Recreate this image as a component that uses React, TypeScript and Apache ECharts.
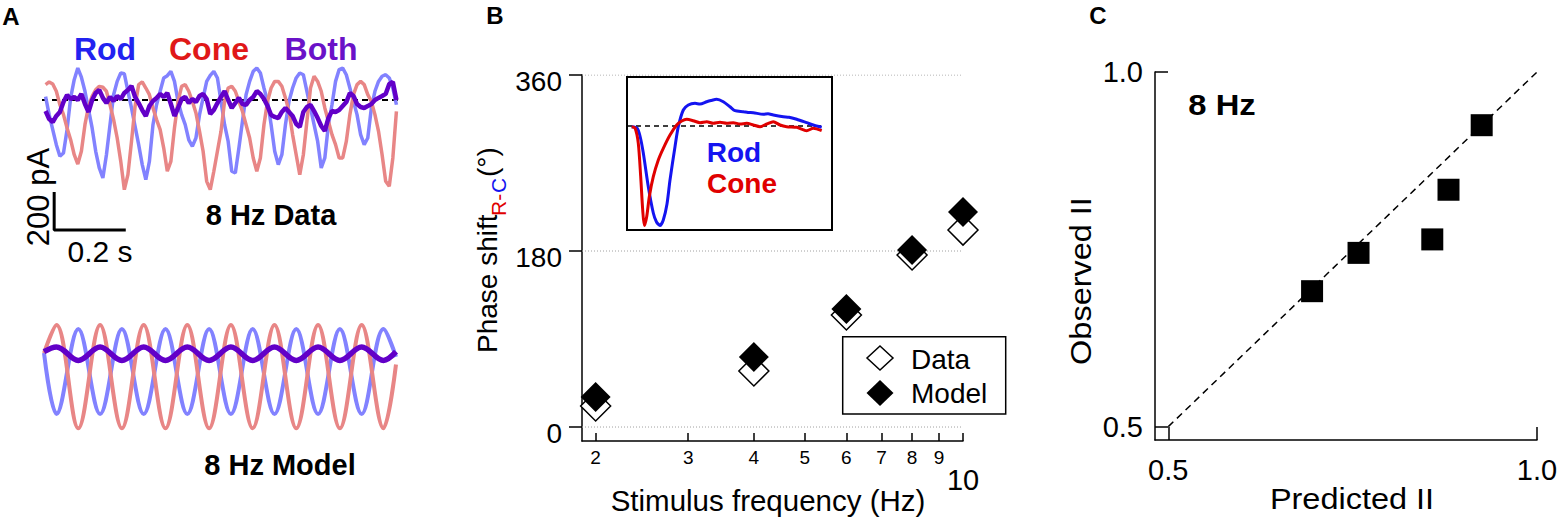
import React, { useEffect, useRef } from 'react';
import * as echarts from 'echarts';

const FONT = "'Liberation Sans', Arial, Helvetica, sans-serif";

// ---------- Panel A: recorded responses at 8 Hz (sampled every 10 ms, pA) ----------
const traceDt = 0.01;
const rodTracePA = [
  18, -77, -156, -235, -296, -279, -156, 11, 107, 168,
  120, 46, -51, -147, -270, -358, -410, -288, -130, 28,
  98, 142, 138, 46, -42, -139, -235, -340, -419, -323,
  -130, -25, 46, 116, 128, 151, 98, -7, -77, -130,
  -210, -244, -200, -77, 11, 98, 130, 151, 116, -7,
  -130, -218, -375, -384, -253, -112, 28, 98, 151, 168,
  142, 63, -7, -130, -270, -340, -288, -130, -7, 63,
  116, 142, 133, 46, -42, -130, -218, -358, -305, -130,
  -25, 98, 160, 168, 133, 63, -7, -77, -182, -235,
  -200, -42, 46, 98, 125, 133, 116, 63, -25
];
const coneTracePA = [
  81, 95, 84, 46, -25, -77, -147, -209, -288, -337,
  -270, -130, -33, 19, 54, 72, 67, 46, -25, -103,
  -200, -323, -472, -393, -218, -33, 81, 95, 63, 28,
  -42, -103, -156, -253, -375, -323, -147, -7, 72, 81,
  46, -7, -68, -165, -270, -428, -472, -375, -270, -165,
  -7, 63, 72, 46, -7, -60, -130, -200, -305, -375,
  -305, -130, -7, 63, 98, 98, 72, 11, -60, -182,
  -288, -393, -288, -112, 63, 125, 98, 46, -42, -112,
  -182, -235, -305, -305, -218, -77, 28, 81, 98, 81,
  28, -7, -77, -165, -288, -428, -454, -305, -60
];
const bothTracePA = [
  -58, -100, -116, -84, -63, -11, 26, 5, 16, 0,
  32, -21, -63, 0, 37, 53, 11, -16, 16, -5,
  21, 5, 37, 53, 74, 16, -16, -53, -84, -32,
  -5, 11, 32, 16, 37, -21, -84, -42, 5, 16,
  -16, 5, -11, 21, 32, 5, -74, -53, -16, 16,
  47, 0, -42, -16, 11, -21, -26, 0, 16, 47,
  32, 5, -32, -79, -89, -95, -63, -42, -63, -84,
  -126, -142, -63, -37, -26, -58, -95, -137, -163, -95,
  -58, -63, -53, -32, -11, 37, 21, -21, -37, -42,
  -32, -21, 0, 11, 21, 32, 84, 95, 0
];
const baselineT = [0, 0.994];
const scaleBarT = [0.034, 0.034, 0.234];
const scaleBarPA = [-484, -684, -684];

// ---------- Panel A: model responses (extrema) ----------
const modelT = [0.0056, 0.0405, 0.1014, 0.1623, 0.2232, 0.2841, 0.345, 0.4059, 0.4668, 0.5277, 0.5885, 0.6494, 0.7103, 0.7712, 0.8321, 0.893, 0.9539, 0.9888];
const modelConePA = [120, 268, -275, 268, -275, 268, -275, 268, -275, 268, -275, 268, -275, 268, -275, 268, -275, 60];
const modelRodPA = [121, -200, 247, -200, 247, -200, 247, -200, 247, -200, 247, -200, 247, -200, 247, -200, 247, 101];
const modelBothPA = [128, 153, 82, 153, 82, 153, 82, 153, 82, 153, 82, 153, 82, 153, 82, 153, 82, 128];

// ---------- Panel B: phase shift ----------
const freqHz = [2, 4, 6, 8, 10];
const phaseData = [21.5, 57.3, 114.5, 175.9, 201.4];
const phaseModel = [30.7, 71.6, 120.7, 181, 219.8];
const freqTicks = [2, 3, 4, 5, 6, 7, 8, 9, 10];
const phaseTicks = [0, 180, 360];

// inset: flash responses (time, normalized current)
const insetRodT = [4.7, 10, 13, 16.3, 21.3, 26.3, 29.5, 33, 36.3, 40, 43, 48, 51.3, 56.3, 61.3, 68, 73, 79.7, 84, 89.7, 96.3, 103, 108, 116.3, 121, 126.3, 136.3, 141, 146.3, 156.3, 162, 169.7, 179.7, 186.3, 194.7];
const insetRodV = [-0.7, -2, -10, -27, -60.7, -87, -96, -99.5, -94, -78, -54, -20.7, -0.7, 16, 21, 22.7, 22, 24.3, 25.5, 26.7, 24.3, 19.3, 15.3, 14.3, 13.5, 13.3, 11.7, 12.3, 11, 9.3, 8.8, 6.7, 3.3, 1, -1.3];
const insetConeT = [4.7, 8, 11.3, 13.7, 15.7, 17.3, 19.7, 22.3, 26.3, 31.3, 36.3, 43, 49.7, 54.7, 59.7, 66.3, 73, 79.7, 86.3, 93, 99.7, 106.3, 113, 119.7, 126.3, 133, 139.7, 146.3, 153, 159.7, 169.7, 179.7, 186.3, 194.7];
const insetConeV = [-0.7, -2, -17.3, -50.7, -84, -99.5, -90.7, -70.7, -50.7, -34, -22.3, -9, 1, 5, 6.7, 5.3, 3.3, 4.3, 2.7, 3.7, 2.7, 3.3, 2, 2.7, 1, -0.7, 2, 4.3, 1, -0.7, -1.3, -4.7, -2.3, -4.7];
const insetBaseT = [0, 195];

// ---------- Panel C: interaction index ----------
const predictedII = [0.695, 0.758, 0.858, 0.88, 0.925];
const observedII = [0.691, 0.745, 0.764, 0.834, 0.925];
const iiTicks = [0.5, 1.0];
const unityLine = [0.5, 1.0];

const ROD_LIGHT = '#8282ff';
const CONE_LIGHT = '#e88686';
const BOTH = '#6200c8';

const lg = (v: number) => Math.log10(v);

function txt(text: string, x: number, y: number, o: any = {}) {
  const align = o.align || 'center';
  return {
    type: 'text',
    x,
    y,
    rotation: o.rotation || 0,
    scaleX: o.scaleX || 1,
    z: 20,
    silent: true,
    style: {
      text,
      fill: o.color || '#000',
      fontSize: o.size || 28,
      fontWeight: o.bold ? 'bold' : 'normal',
      fontFamily: FONT,
      align,
      textAlign: align,
      verticalAlign: 'middle',
      textVerticalAlign: 'middle',
    },
  };
}

const hidden = (gridIndex: number, min: number, max: number) => ({
  type: 'value', gridIndex, min, max, show: false,
  axisLine: { show: false }, axisTick: { show: false }, axisLabel: { show: false }, splitLine: { show: false },
});

const AXIS_LINE = { show: true, onZero: false, lineStyle: { color: '#000', width: 1.5 } };

export default function App() {
  const ref = useRef<HTMLDivElement>(null);
  useEffect(() => {
    if (!ref.current) return;
    const chart = echarts.init(ref.current, undefined, { renderer: 'svg' });
    const freqMin = lg(1.884);

    const option: any = {
      animation: false,
      backgroundColor: '#ffffff',
      textStyle: { fontFamily: FONT },
      grid: [
        { left: 42, top: 62, width: 358, height: 190 },
        { left: 42, top: 300, width: 358, height: 152 },
        { left: 582, top: 75, width: 381, height: 366 },
        { left: 627, top: 77, width: 205, height: 153, show: true, borderColor: '#000', borderWidth: 2, backgroundColor: 'rgba(0,0,0,0)', z: 3 },
        { left: 1155, top: 72, width: 382, height: 368 },
      ],
      xAxis: [
        hidden(0, 0, 1),
        hidden(1, 0, 1),
        {
          type: 'value', gridIndex: 2, min: freqMin, max: 1,
          axisLine: AXIS_LINE,
          axisTick: { show: true, inside: true, length: 8, lineStyle: { color: '#000', width: 1.5 }, customValues: freqTicks.map(lg) },
          axisLabel: {
            show: true, customValues: freqTicks.map(lg), margin: 7, color: '#000',
            formatter: (v: number) => {
              const f = Math.round(Math.pow(10, v));
              return f === 10 ? '{big|10}' : '{sm|' + f + '}';
            },
            rich: {
              sm: { fontSize: 19, color: '#000', fontFamily: FONT },
              big: { fontSize: 29, color: '#000', fontFamily: FONT, padding: [17, 0, 0, 0] },
            },
          },
          splitLine: { show: false },
        },
        hidden(3, 0, 205),
        {
          type: 'value', gridIndex: 4, min: 0.482, max: 1.0,
          axisLine: AXIS_LINE,
          axisTick: { show: true, inside: true, length: 13, lineStyle: { color: '#000', width: 1.5 }, customValues: iiTicks },
          axisLabel: { show: true, customValues: iiTicks, margin: 15, fontSize: 29, color: '#000', fontFamily: FONT, formatter: (v: number) => v.toFixed(1) },
          splitLine: { show: false },
        },
      ],
      yAxis: [
        hidden(0, -800, 200),
        hidden(1, -400, 400),
        {
          type: 'value', gridIndex: 2, min: -14.3, max: 360,
          axisLine: AXIS_LINE,
          axisTick: { show: true, inside: false, length: 13, lineStyle: { color: '#000', width: 1.5 }, customValues: phaseTicks },
          axisLabel: {
            show: true, customValues: phaseTicks, margin: 20, color: '#000',
            formatter: (v: number) => '{a|' + v + '}',
            rich: { a: { fontSize: 28, color: '#000', fontFamily: FONT, padding: [13, 0, 0, 0] } },
          },
          splitLine: { show: false },
        },
        hidden(3, -104, 49),
        {
          type: 'value', gridIndex: 4, min: 0.4812, max: 1.0,
          axisLine: AXIS_LINE,
          axisTick: { show: true, inside: true, length: 13, lineStyle: { color: '#000', width: 1.5 }, customValues: iiTicks },
          axisLabel: { show: true, customValues: iiTicks, margin: 12, fontSize: 29, color: '#000', fontFamily: FONT, formatter: (v: number) => v.toFixed(1) },
          splitLine: { show: false },
        },
      ],
      series: [
        // Panel A data
        {
          name: 'baseline', type: 'line', xAxisIndex: 0, yAxisIndex: 0, symbol: 'none', z: 1, silent: true,
          data: baselineT.map((t) => [t, 0]),
          lineStyle: { color: '#000', width: 2, type: [6, 4] },
        },
        {
          name: 'Rod', type: 'line', xAxisIndex: 0, yAxisIndex: 0, symbol: 'none', z: 2,
          data: rodTracePA.map((v, i) => [(i + 1) * traceDt, v]),
          lineStyle: { color: ROD_LIGHT, width: 3.5 },
        },
        {
          name: 'Cone', type: 'line', xAxisIndex: 0, yAxisIndex: 0, symbol: 'none', z: 3,
          data: coneTracePA.map((v, i) => [(i + 1) * traceDt, v]),
          lineStyle: { color: CONE_LIGHT, width: 3.5 },
        },
        {
          name: 'Both', type: 'line', xAxisIndex: 0, yAxisIndex: 0, symbol: 'none', z: 4,
          data: bothTracePA.map((v, i) => [(i + 1) * traceDt, v]),
          lineStyle: { color: BOTH, width: 4.5 },
        },
        {
          name: 'scale bar', type: 'line', xAxisIndex: 0, yAxisIndex: 0, symbol: 'none', z: 5, silent: true,
          data: scaleBarT.map((t, i) => [t, scaleBarPA[i]]),
          lineStyle: { color: '#000', width: 3 },
        },
        // Panel A model
        {
          name: 'Rod model', type: 'line', xAxisIndex: 1, yAxisIndex: 1, symbol: 'none', smooth: 0.36, z: 2,
          data: modelT.map((t, i) => [t, modelRodPA[i]]),
          lineStyle: { color: ROD_LIGHT, width: 4 },
        },
        {
          name: 'Cone model', type: 'line', xAxisIndex: 1, yAxisIndex: 1, symbol: 'none', smooth: 0.36, z: 3,
          data: modelT.map((t, i) => [t, modelConePA[i]]),
          lineStyle: { color: CONE_LIGHT, width: 4 },
        },
        {
          name: 'Both model', type: 'line', xAxisIndex: 1, yAxisIndex: 1, symbol: 'none', smooth: 0.36, z: 4,
          data: modelT.map((t, i) => [t, modelBothPA[i]]),
          lineStyle: { color: BOTH, width: 5.5 },
        },
        // Panel B grid lines
        ...phaseTicks.map((p) => ({
          name: 'grid ' + p, type: 'line', xAxisIndex: 2, yAxisIndex: 2, symbol: 'none', z: 1, silent: true,
          data: [[freqMin, p], [1, p]],
          lineStyle: { color: '#a0a0a0', width: 1, type: [1, 2] },
        })),
        {
          name: 'Data', type: 'scatter', xAxisIndex: 2, yAxisIndex: 2, symbol: 'diamond', symbolSize: 30, z: 3, clip: false,
          data: freqHz.map((f, i) => [lg(f), phaseData[i]]),
          itemStyle: { color: '#fff', borderColor: '#000', borderWidth: 1.5, opacity: 1 },
        },
        {
          name: 'Model', type: 'scatter', xAxisIndex: 2, yAxisIndex: 2, symbol: 'diamond', symbolSize: 30, z: 4, clip: false,
          data: freqHz.map((f, i) => [lg(f), phaseModel[i]]),
          itemStyle: { color: '#000', opacity: 1 },
        },
        // inset
        {
          name: 'inset baseline', type: 'line', xAxisIndex: 3, yAxisIndex: 3, symbol: 'none', z: 5, silent: true,
          data: insetBaseT.map((t) => [t, 0]),
          lineStyle: { color: '#000', width: 1.5, type: [5, 4] },
        },
        {
          name: 'Rod flash', type: 'line', xAxisIndex: 3, yAxisIndex: 3, symbol: 'none', smooth: 0.25, z: 6, clip: false,
          data: insetRodT.map((t, i) => [t, insetRodV[i]]),
          lineStyle: { color: '#1414f0', width: 3 },
        },
        {
          name: 'Cone flash', type: 'line', xAxisIndex: 3, yAxisIndex: 3, symbol: 'none', smooth: 0.25, z: 7, clip: false,
          data: insetConeT.map((t, i) => [t, insetConeV[i]]),
          lineStyle: { color: '#e00000', width: 3 },
        },
        // Panel C
        {
          name: 'unity', type: 'line', xAxisIndex: 4, yAxisIndex: 4, symbol: 'none', z: 2, silent: true,
          data: unityLine.map((v) => [v, v]),
          lineStyle: { color: '#000', width: 1.5, type: [7, 5] },
        },
        {
          name: 'II', type: 'scatter', xAxisIndex: 4, yAxisIndex: 4, symbol: 'rect', symbolSize: 22, z: 3, clip: false,
          data: predictedII.map((p, i) => [p, observedII[i]]),
          itemStyle: { color: '#000', opacity: 1 },
        },
      ],
      graphic: [
        // Panel A
        txt('A', 11, 16, { bold: true, size: 24 }),
        txt('Rod', 105, 49, { bold: true, size: 32, color: '#2222f0' }),
        txt('Cone', 209, 49, { bold: true, size: 32, color: '#e01818' }),
        txt('Both', 321, 49, { bold: true, size: 32, color: '#6a12c8' }),
        txt('200 pA', 38, 197, { size: 31, rotation: Math.PI / 2 }),
        txt('0.2 s', 100, 251, { size: 30 }),
        txt('8 Hz Data', 271, 215, { bold: true, size: 29 }),
        txt('8 Hz Model', 280, 465, { bold: true, size: 29 }),
        // Panel B
        txt('B', 495, 15, { bold: true, size: 24 }),
        txt('Phase shift', 487, 353, { size: 28, rotation: Math.PI / 2, align: 'left' }),
        txt('R-', 498, 216, { size: 21, rotation: Math.PI / 2, align: 'left', color: '#e00000' }),
        txt('C', 498, 193, { size: 21, rotation: Math.PI / 2, align: 'left', color: '#1414f0' }),
        txt('(°)', 487, 177, { size: 28, rotation: Math.PI / 2, align: 'left' }),
        txt('Stimulus frequency (Hz)', 768, 500, { size: 29.5 }),
        txt('Rod', 734, 152, { bold: true, size: 28, color: '#1414f0' }),
        txt('Cone', 742, 183, { bold: true, size: 28, color: '#e00000' }),
        {
          type: 'rect', z: 20, silent: true,
          shape: { x: 842.7, y: 336.7, width: 163, height: 77.3 },
          style: { fill: '#fff', stroke: '#000', lineWidth: 1.5 },
        },
        {
          type: 'polygon', z: 21, silent: true,
          shape: { points: [[880, 346], [893, 358], [880, 370], [867, 358]] },
          style: { fill: '#fff', stroke: '#000', lineWidth: 1.5 },
        },
        {
          type: 'polygon', z: 21, silent: true,
          shape: { points: [[880, 380], [893.5, 393], [880, 406], [866.5, 393]] },
          style: { fill: '#000' },
        },
        txt('Data', 911, 359, { size: 28, align: 'left' }),
        txt('Model', 911, 393, { size: 28, align: 'left' }),
        // Panel C
        txt('C', 1098, 15, { bold: true, size: 24 }),
        txt('8 Hz', 1222, 105, { bold: true, size: 29, scaleX: 1.13 }),
        txt('Predicted II', 1352, 499, { size: 29, scaleX: 1.12 }),
        txt('Observed II', 1081, 281, { size: 29, rotation: Math.PI / 2, scaleX: 1.12 }),
      ],
    };
    chart.setOption(option);
    return () => chart.dispose();
  }, []);
  return <div ref={ref} style={{ position: 'absolute', left: 0, top: 0, width: 1563, height: 523 }} />;
}
